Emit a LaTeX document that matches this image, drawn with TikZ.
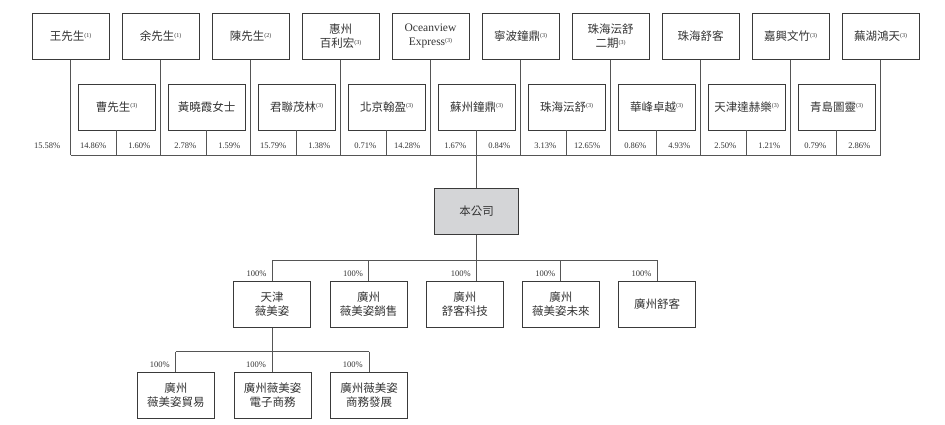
\documentclass[tikz,border=0pt]{standalone}
\usepackage{fontspec}
\setmainfont{Liberation Serif}
\newfontfamily\cjk{Noto Sans CJK TC}
\definecolor{ink}{HTML}{333333}
\definecolor{bordercol}{HTML}{3A3A3A}
\definecolor{lncol}{HTML}{555555}
\definecolor{gfill}{HTML}{D4D5D7}
\newcommand\fnote[1]{\raisebox{3.5pt}{\normalfont\fontsize{6}{6}\selectfont(#1)}}
\begin{document}
\begin{tikzpicture}[x=1pt,y=-1pt,
  box/.style={draw=bordercol, line width=0.8pt, minimum width=77pt, minimum height=46pt,
    inner sep=1pt, align=center, text=ink, font=\cjk\fontsize{11.5}{14}\selectfont},
  conn/.style={draw=lncol, line width=0.75pt},
  pct/.style={text=ink, font=\fontsize{8.5}{9}\selectfont, inner sep=0pt, anchor=base east}]
\useasboundingbox (0,0) rectangle (945,425);

% top row
\node[box] (t0) at (70.5,36.3) {王先生\fnote{1}};
\node[box] (t1) at (160.5,36.3) {余先生\fnote{1}};
\node[box] (t2) at (250.5,36.3) {陳先生\fnote{2}};
\node[box] (t3) at (340.5,36.3) {惠州\\百利宏\fnote{3}};
\node[box] (t4) at (430.5,36.3) {{\normalfont Oceanview}\\{\normalfont Express}\fnote{3}};
\node[box] (t5) at (520.5,36.3) {寧波鐘鼎\fnote{3}};
\node[box] (t6) at (610.5,36.3) {珠海沄舒\\二期\fnote{3}};
\node[box] (t7) at (700.5,36.3) {珠海舒客};
\node[box] (t8) at (790.5,36.3) {嘉興文竹\fnote{3}};
\node[box] (t9) at (880.5,36.3) {蕪湖鴻天\fnote{3}};

% second row
\node[box] (s0) at (116.5,107) {曹先生\fnote{3}};
\node[box] (s1) at (206.5,107) {黃曉霞女士};
\node[box] (s2) at (296.5,107) {君聯茂林\fnote{3}};
\node[box] (s3) at (386.5,107) {北京翰盈\fnote{3}};
\node[box] (s4) at (476.5,107) {蘇州鐘鼎\fnote{3}};
\node[box] (s5) at (566.5,107) {珠海沄舒\fnote{3}};
\node[box] (s6) at (656.5,107) {華峰卓越\fnote{3}};
\node[box] (s7) at (746.5,107) {天津達赫樂\fnote{3}};
\node[box] (s8) at (836.5,107) {青島圖靈\fnote{3}};

\coordinate (bus) at (0,155);
\foreach \n in {t0,t1,t2,t3,t4,t5,t6,t7,t8,t9,s0,s1,s2,s3,s5,s6,s7,s8}
  \draw[conn] (\n.south) -- (\n.south |- bus);
\draw[conn] (t0.south |- bus) -- (t9.south |- bus);

% percentages
\path (t0.south |- 0,149) ++(-10,0) node[pct] {15.58\%};
\foreach \a/\b/\p/\q in {s0/t1/14.86/1.60, s1/t2/2.78/1.59, s2/t3/15.79/1.38,
    s3/t4/0.71/14.28, s4/t5/1.67/0.84, s5/t6/3.13/12.65, s6/t7/0.86/4.93,
    s7/t8/2.50/1.21, s8/t9/0.79/2.86}{
  \path (\a.south |- 0,149) ++(-10,0) node[pct] {\p\%};
  \path (\b.south |- 0,149) ++(-10,0) node[pct] {\q\%};
}

% company
\node[box, fill=gfill, minimum width=83.7pt] (co) at (476.5,211.3) {本公司};
\draw[conn] (s4.south) -- (co.north);

% subsidiaries
\node[box] (c1) at (272.2,304.5) {天津\\薇美姿};
\node[box] (c2) at (368.7,304.5) {廣州\\薇美姿銷售};
\node[box] (c3) at (464.8,304.5) {廣州\\舒客科技};
\node[box] (c4) at (560.8,304.5) {廣州\\薇美姿未來};
\node[box] (c5) at (657.2,304.5) {廣州舒客};

\coordinate (sbus) at (0,260);
\draw[conn] (co.south) -- (co.south |- c3.north);
\draw[conn] (c1.north |- sbus) -- (c5.north |- sbus);
\foreach \n in {c1,c2,c4,c5}
  \draw[conn] (\n.north |- sbus) -- (\n.north);
\foreach \n in {c1,c2,c4,c5}
  \path (\n.north |- 0,276) ++(-5.5,0) node[pct] {100\%};
\path (co.south |- 0,276) ++(-5.5,0) node[pct] {100\%};

% third level
\node[box] (g1) at (175.8,395.5) {廣州\\薇美姿貿易};
\node[box] (g2) at (272.7,395.5) {廣州薇美姿\\電子商務};
\node[box] (g3) at (369,395.5) {廣州薇美姿\\商務發展};

\coordinate (gbus) at (0,351.7);
\draw[conn] (c1.south) -- (c1.south |- g2.north);
\draw[conn] (g1.north |- gbus) -- (g3.north |- gbus);
\foreach \n in {g1,g3}
  \draw[conn] (\n.north |- gbus) -- (\n.north);
\foreach \n in {g1,g3}
  \path (\n.north |- 0,367.3) ++(-6,0) node[pct] {100\%};
\path (c1.south |- 0,367.3) ++(-6,0) node[pct] {100\%};
\end{tikzpicture}
\end{document}
